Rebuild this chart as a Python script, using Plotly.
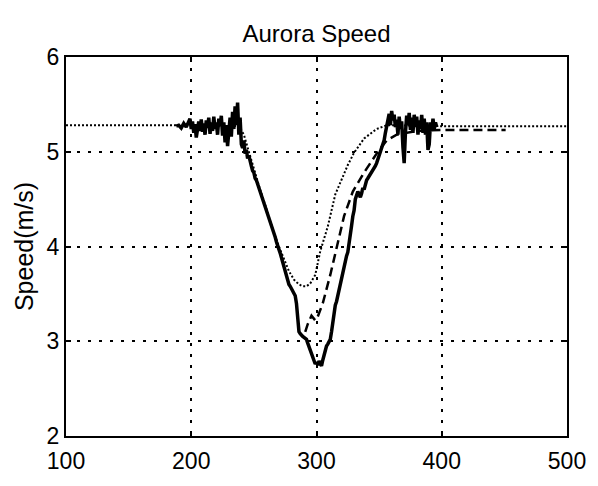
import plotly.graph_objects as go

# Measured speed (solid)
meas_x = [188, 190, 192, 194, 196, 198, 199, 200, 201, 202, 203, 204, 205, 206, 207, 208, 209, 210,
          211, 212, 213, 214, 215, 216, 217, 218, 219, 220, 221, 222, 223, 224, 225, 226, 227, 228,
          229, 230, 231, 232, 233, 234, 235, 236, 237, 238, 239, 240, 241, 242, 243, 244, 245, 246,
          247, 248, 249, 250, 251, 252, 253, 254, 255, 256, 257, 258, 259, 260, 261, 262, 263, 264,
          265, 266, 267, 268, 269, 270, 271, 272, 273, 274, 275, 276, 277, 278, 279, 280, 281, 282,
          283, 284, 285, 286, 287, 288, 289, 290, 291, 292, 293, 294, 295, 296, 297, 298, 299, 300,
          301, 302, 303, 304, 305, 306, 307, 308, 309, 310, 311, 312, 313, 314, 315, 316, 317, 318,
          319, 320, 321, 322, 323, 324, 325, 326, 327, 328, 329, 330, 331, 332, 333, 334, 335, 336,
          337, 338, 339, 340, 341, 342, 343, 344, 345, 346, 347, 348, 349, 350, 351, 352, 353, 354,
          355, 356, 357, 358, 359, 360, 361, 362, 363, 364, 365, 366, 367, 368, 369, 370, 371, 372,
          373, 374, 375, 376, 377, 378, 379, 380, 381, 382, 383, 384, 385, 386, 387, 388, 389, 390,
          391, 392, 393, 394, 395, 396]
meas_y = [5.27, 5.28, 5.25, 5.30, 5.26, 5.31, 5.35, 5.24, 5.32, 5.20, 5.29, 5.15, 5.27, 5.32, 5.22, 5.34, 5.21, 5.30,
          5.18, 5.33, 5.25, 5.36, 5.19, 5.31, 5.22, 5.37, 5.24, 5.31, 5.18, 5.35, 5.27, 5.38, 5.17, 5.31, 5.10, 5.28,
          5.06, 5.25, 5.36, 5.16, 5.42, 5.24, 5.48, 5.28, 5.52, 5.18, 5.36, 5.08, 5.04, 5.12, 4.98, 5.02, 4.93, 4.96,
          4.88, 4.85, 4.80, 4.78, 4.72, 4.70, 4.66, 4.62, 4.58, 4.55, 4.50, 4.46, 4.42, 4.40, 4.36, 4.32, 4.28, 4.22,
          4.18, 4.14, 4.10, 4.05, 4.02, 3.97, 3.93, 3.88, 3.82, 3.78, 3.72, 3.70, 3.64, 3.60, 3.58, 3.55, 3.52, 3.50,
          3.48, 3.40, 3.25, 3.10, 3.08, 3.06, 3.05, 3.04, 3.03, 3.02, 2.98, 2.94, 2.90, 2.86, 2.83, 2.79, 2.76, 2.78,
          2.75, 2.79, 2.76, 2.74, 2.80, 2.86, 2.92, 2.95, 2.97, 3.00, 3.02, 3.10, 3.20, 3.30, 3.38, 3.42, 3.48, 3.55,
          3.62, 3.68, 3.75, 3.80, 3.86, 3.90, 3.94, 4.02, 4.12, 4.22, 4.32, 4.38, 4.50, 4.56, 4.58, 4.55, 4.52, 4.56,
          4.62, 4.60, 4.66, 4.70, 4.72, 4.74, 4.76, 4.78, 4.80, 4.82, 4.85, 4.88, 4.92, 4.96, 5.00, 5.04, 5.08, 5.12,
          5.20, 5.28, 5.32, 5.40, 5.28, 5.43, 5.33, 5.39, 5.26, 5.34, 5.18, 5.37, 5.24, 5.32, 5.05, 4.88, 5.20, 5.38,
          5.28, 5.41, 5.23, 5.36, 5.20, 5.39, 5.26, 5.37, 5.18, 5.33, 5.24, 5.39, 5.20, 5.35, 5.18, 5.31, 5.02, 5.08,
          5.31, 5.22, 5.35, 5.24, 5.31, 5.26]

# Dashed curve
dash_x = [291, 293, 296, 299, 301, 305, 311, 317, 322, 329, 338, 348, 356, 364, 372, 380, 400, 420, 451]
dash_y = [3.10, 3.18, 3.27, 3.22, 3.26, 3.40, 3.70, 4.04, 4.32, 4.58, 4.78, 4.98, 5.12, 5.18, 5.20, 5.22, 5.23, 5.23, 5.23]

# Dotted curve
dot_x = [100, 200, 238, 242, 246, 250, 255, 260, 265, 270, 274, 278, 282, 286, 289, 292, 295, 299, 303, 309,
         315, 319, 325, 330, 338, 348, 356, 400, 500]
dot_y = [5.28, 5.28, 5.27, 5.18, 5.00, 4.82, 4.60, 4.40, 4.18, 4.00, 3.86, 3.74, 3.65, 3.60, 3.58, 3.58, 3.61,
         3.70, 3.95, 4.21, 4.55, 4.68, 4.86, 4.99, 5.14, 5.24, 5.28, 5.27, 5.27]

x_ticks = [100, 200, 300, 400, 500]
y_ticks = [2, 3, 4, 5, 6]

FONT = "Liberation Sans, Arial, sans-serif"

fig = go.Figure()
fig.add_trace(go.Scatter(x=dot_x, y=dot_y, mode="lines",
                         line=dict(color="black", width=2, dash="2px,2px")))
fig.add_trace(go.Scatter(x=dash_x, y=dash_y, mode="lines",
                         line=dict(color="black", width=2.5, dash="9px,5px")))
fig.add_trace(go.Scatter(x=meas_x, y=meas_y, mode="lines",
                         line=dict(color="black", width=3.5)))

axis_common = dict(
    showline=True, linecolor="black", linewidth=2, mirror="ticks",
    ticks="inside", ticklen=5, tickwidth=1.5, tickcolor="black",
    showgrid=True, gridcolor="black", gridwidth=2, griddash="3px,8px",
    zeroline=False,
    tickfont=dict(family=FONT, size=23, color="black"),
)

fig.update_layout(
    width=598, height=486,
    margin=dict(l=66, r=24, t=57, b=35),
    paper_bgcolor="white", plot_bgcolor="white",
    showlegend=False,
    title=dict(text="Aurora Speed", x=0.5, xref="paper", xanchor="center",
               y=1 - 34 / 486, yref="container", yanchor="middle",
               font=dict(family=FONT, size=24, color="black")),
    xaxis=dict(range=[100, 500], tickvals=x_ticks, ticktext=[str(v) for v in x_ticks],
               ticklabelstandoff=3, **axis_common),
    yaxis=dict(range=[2, 6], tickvals=y_ticks, ticktext=[str(v) for v in y_ticks],
               title=dict(text="Speed(m/s)", standoff=6,
                          font=dict(family=FONT, size=25, color="black")),
               **axis_common),
)

fig.write_html("out.html")
